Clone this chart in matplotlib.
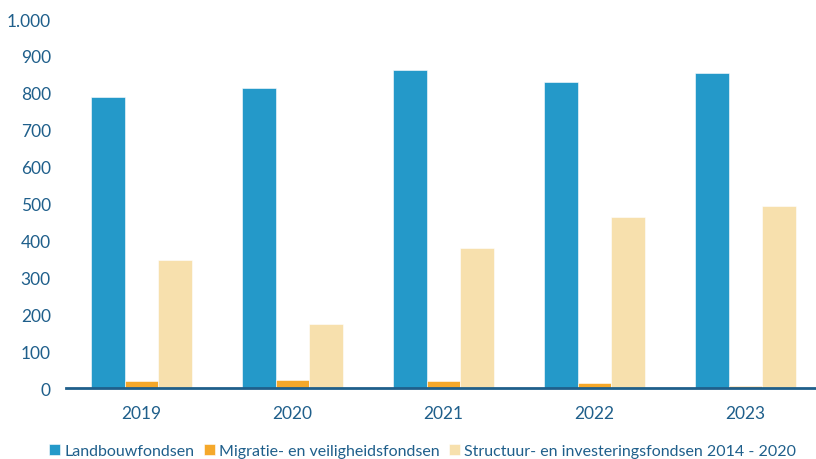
import numpy as np
import matplotlib
matplotlib.use("Agg")
import matplotlib.pyplot as plt
from matplotlib.ticker import FuncFormatter

years = ["2019", "2020", "2021", "2022", "2023"]
landbouw = [789, 812, 862, 829, 854]
migratie = [20, 22, 19, 13, 6]
structuur = [347, 175, 379, 464, 494]

series_labels = [
    "Landbouwfondsen",
    "Migratie- en veiligheidsfondsen",
    "Structuur- en investeringsfondsen 2014 - 2020",
]
colours = ["#2499C9", "#F5A82A", "#F7E0AD"]
text_colour = "#1F5F8B"

plt.rcParams["font.family"] = ["Lato", "DejaVu Sans"]

fig = plt.figure(figsize=(8.16, 4.6), dpi=100)
ax = fig.add_axes([0.081, 0.154, 0.925, 0.8025])

x = np.arange(len(years))
width = 0.222
for i, (vals, col, lab) in enumerate(zip([landbouw, migratie, structuur], colours, series_labels)):
    ax.bar(x + (i - 1) * width, vals, width, color=col, label=lab,
           edgecolor="white", linewidth=0.4, zorder=2)

ax.set_xlim(-0.5, len(years) - 0.5)
ax.set_ylim(0, 1000)
ax.set_yticks(np.arange(0, 1001, 100))
ax.yaxis.set_major_formatter(FuncFormatter(lambda v, p: f"{int(v):,}".replace(",", ".")))
ax.set_xticks(x)
ax.set_xticklabels(years)

for side in ["top", "right", "left"]:
    ax.spines[side].set_visible(False)
ax.spines["bottom"].set_color("#1F5F8B")
ax.spines["bottom"].set_linewidth(2.0)
ax.spines["bottom"].set_zorder(3)

ax.tick_params(axis="y", length=0, pad=11, labelsize=12.5, labelcolor=text_colour)
ax.tick_params(axis="x", length=0, pad=12, labelsize=12.5, labelcolor=text_colour)

handles, labels = ax.get_legend_handles_labels()
fig.legend(handles, labels, loc="center", bbox_to_anchor=(0.518, 0.018), ncol=3,
           frameon=False, fontsize=11.5, labelcolor=text_colour,
           handlelength=0.7, handleheight=0.7, handletextpad=0.25, columnspacing=0.6)

fig.savefig("out.png", dpi=100)
